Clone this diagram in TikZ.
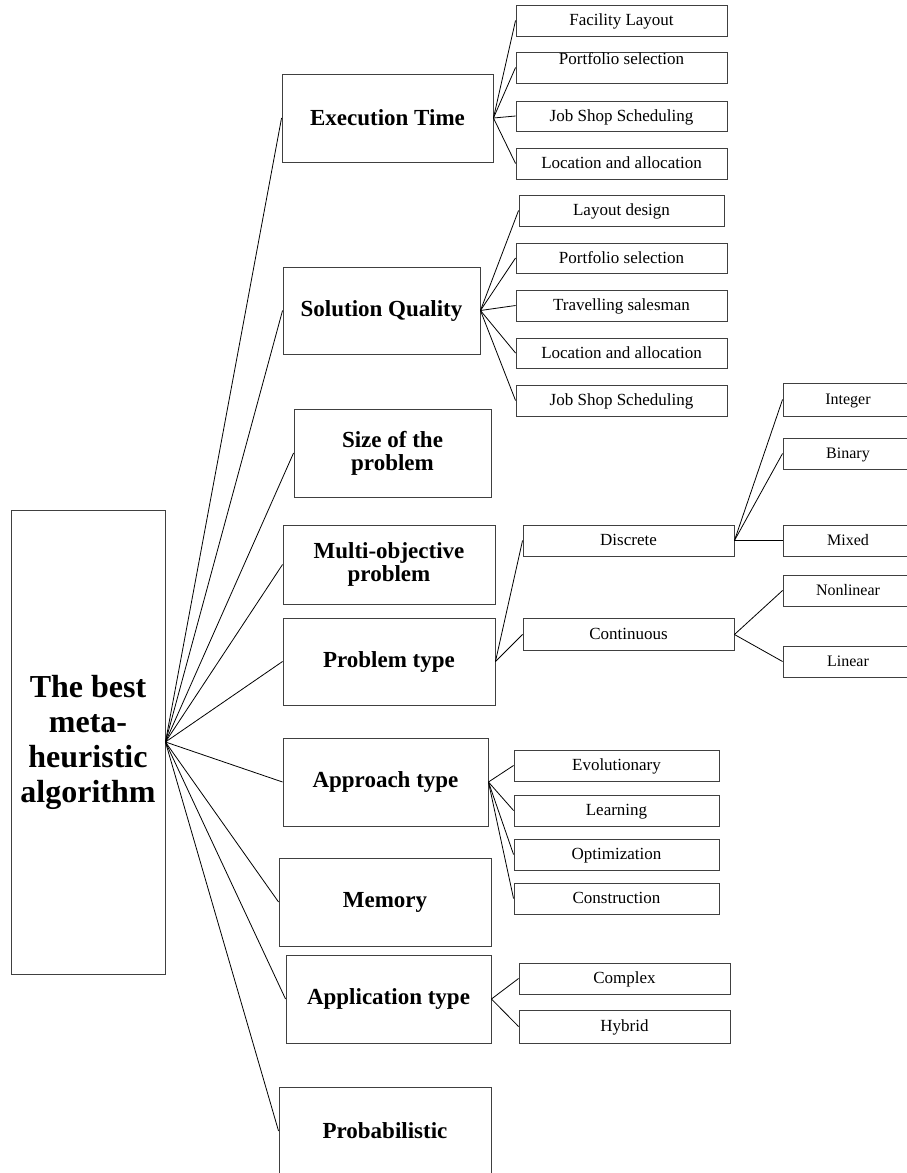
\documentclass[tikz,border=0pt]{standalone}
\usepackage{fontspec}
\setmainfont{Liberation Serif}
\usetikzlibrary{positioning}

\begin{document}
\begin{tikzpicture}[x=1pt, y=-1pt,
	box/.style={draw=black!75, line width=0.9pt, inner sep=0pt, align=center},
	topic/.style={box, font=\fontsize{23}{23}\selectfont\bfseries},
	leaf/.style={box, font=\fontsize{17}{19}\selectfont, minimum height=31pt, text height=13pt, text depth=3pt},
	subleaf/.style={box, font=\fontsize{16}{18}\selectfont, minimum width=130pt, minimum height=31pt, text height=12pt, text depth=3pt},
	hightext/.style={text height=10pt, text depth=17pt},
	link/.style={line width=0.8pt}]
\def \leafone {621.5}
\def \leaftwo {616.5}
\def \kindx {628.5}
\def \subx {848}

\useasboundingbox (0,0) rectangle (906,1173);

%Root
\node[box, minimum width=154pt, minimum height=464pt, font=\fontsize{32}{35}\selectfont\bfseries] (root) at (88,742) {The best\\meta-\\heuristic\\algorithm};

%Criteria
\node[topic, minimum width=211pt, minimum height=88pt] (exec) at (387.5,118) {Execution Time};
\node[topic, minimum width=197pt, minimum height=87pt] (qual) at (381.5,310.5) {Solution Quality};
\node[topic, minimum width=197pt, minimum height=88pt] (size) at (392.5,453) {Size of the\\problem};
\node[topic, minimum width=212pt, minimum height=79pt] (multi) at (389,564.5) {Multi-objective\\problem};
\node[topic, minimum width=212pt, minimum height=87pt] (ptype) at (389,661.5) {Problem type};
\node[topic, minimum width=205pt, minimum height=88pt] (appr) at (385.5,782) {Approach type};
\node[topic, minimum width=212pt, minimum height=88pt] (mem) at (385,902) {Memory};
\node[topic, minimum width=205pt, minimum height=88pt] (appl) at (388.5,999) {Application type};
\node[topic, minimum width=212pt, minimum height=88pt] (prob) at (385,1131) {Probabilistic};

\foreach \c in {exec,qual,size,multi,ptype,appr,mem,appl,prob}
	\draw[link] (root.east) -- (\c.west);

%Execution time
\node[leaf, minimum width=211pt] (fac) at (\leafone,20.5) {Facility Layout};
\node[leaf, minimum width=211pt, hightext] (portA) at (\leafone,67.5) {Portfolio selection};
\node[leaf, minimum width=211pt, minimum height=30pt] (jobA) at (\leafone,116) {Job Shop Scheduling};
\node[leaf, minimum width=211pt] (locA) at (\leafone,163.5) {Location and allocation};
\foreach \c in {fac,portA,jobA,locA}
	\draw[link] (exec.east) -- (\c.west);

%Solution quality
\node[leaf, minimum width=205pt] (lay) at (\leafone,210.5) {Layout design};
\node[leaf, minimum width=211pt, minimum height=30pt] (portB) at (\leafone,258) {Portfolio selection};
\node[leaf, minimum width=211pt] (trav) at (\leafone,305.5) {Travelling salesman};
\node[leaf, minimum width=211pt, minimum height=30pt] (locB) at (\leafone,353) {Location and allocation};
\node[leaf, minimum width=211pt] (jobB) at (\leafone,400.5) {Job Shop Scheduling};
\foreach \c in {lay,portB,trav,locB,jobB}
	\draw[link] (qual.east) -- (\c.west);

%Problem type
\node[leaf, minimum width=211pt] (disc) at (\kindx,540.5) {Discrete};
\node[leaf, minimum width=211pt, minimum height=32pt] (cont) at (\kindx,634.5) {Continuous};
\draw[link] (ptype.east) -- (disc.west);
\draw[link] (ptype.east) -- (cont.west);

\node[subleaf, minimum height=33pt] (int) at (\subx,399.5) {Integer};
\node[subleaf] (bin) at (\subx,453.5) {Binary};
\node[subleaf] (mix) at (\subx,540.5) {Mixed};
\node[subleaf] (nonlin) at (\subx,590.5) {Nonlinear};
\node[subleaf] (lin) at (\subx,661.5) {Linear};
\foreach \c in {int,bin,mix}
	\draw[link] (disc.east) -- (\c.west);
\draw[link] (cont.east) -- (nonlin.west);
\draw[link] (cont.east) -- (lin.west);

%Approach type
\node[leaf, minimum width=205pt] (evo) at (\leaftwo,765.5) {Evolutionary};
\node[leaf, minimum width=205pt] (learn) at (\leaftwo,810.5) {Learning};
\node[leaf, minimum width=205pt] (opt) at (\leaftwo,854.5) {Optimization};
\node[leaf, minimum width=205pt] (cons) at (\leaftwo,898.5) {Construction};
\foreach \c in {evo,learn,opt,cons}
	\draw[link] (appr.east) -- (\c.west);

%Application type
\node[leaf, minimum width=211pt] (compl) at (624.5,978.5) {Complex};
\node[leaf, minimum width=211pt, minimum height=33pt] (hyb) at (624.5,1026.5) {Hybrid};
\draw[link] (appl.east) -- (compl.west);
\draw[link] (appl.east) -- (hyb.west);

\end{tikzpicture}
\end{document}
